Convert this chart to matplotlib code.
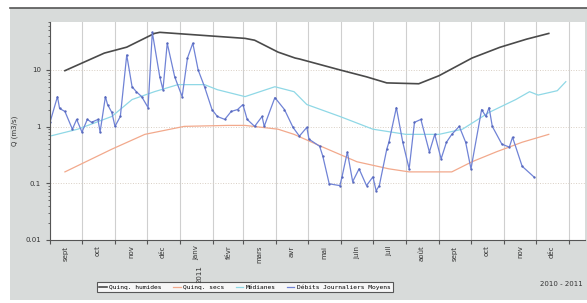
import numpy as np
import matplotlib.pyplot as plt
import matplotlib.dates as mdates
from matplotlib.patches import Rectangle
from matplotlib.lines import Line2D

# Début de la période affichée
debut = np.datetime64('2010-09-01')

# Débits journaliers moyens (jour depuis le début, m3/s)
jours_djm = [0, 7, 9, 14, 21, 25, 30, 35, 39, 45, 47, 52, 54, 58, 61, 66, 72, 77, 81, 86,
             92, 96, 103, 106, 110, 117, 124, 129, 134, 139, 145, 152, 157, 164, 170, 176,
             181, 185, 192, 199, 201, 211, 220, 228, 234, 241, 243, 253, 256, 262, 272, 274,
             279, 284, 290, 297, 303, 306, 309, 316, 318, 325, 331, 337, 342, 348, 356, 361,
             367, 372, 377, 384, 390, 395, 405, 409, 412, 415, 424, 431, 434, 443, 454]
djm = [1.19, 3.38, 2.09, 1.85, 0.90, 1.34, 0.80, 1.34, 1.19, 1.34, 0.80, 3.38, 2.45, 1.78,
       1.01, 1.51, 18.3, 5.05, 4.13, 3.38, 2.17, 46, 7.55, 4.48, 29.6, 7.55, 3.38, 16.2, 29.6,
       10, 5.05, 2.0, 1.51, 1.34, 1.85, 2.0, 2.45, 1.34, 1.01, 1.51, 1.01, 3.25, 2.0, 0.97,
       0.68, 0.97, 0.60, 0.45, 0.30, 0.098, 0.091, 0.13, 0.356, 0.107, 0.18, 0.091, 0.13,
       0.074, 0.091, 0.40, 0.53, 2.17, 0.53, 0.18, 1.19, 1.34, 0.356, 0.73, 0.27, 0.53, 0.73,
       1.01, 0.53, 0.18, 2.0, 1.51, 2.17, 1.01, 0.49, 0.435, 0.65, 0.20, 0.13]

# Quinquennale humide
jours_qh = [14, 51, 72, 98, 103, 183, 192, 214, 230, 234, 272, 297, 316, 346, 365, 396, 422, 447, 468]
qh = [9.7, 19.8, 25.2, 44, 46, 36, 33.4, 20.6, 16.2, 15.6, 10, 7.55, 5.9, 5.7, 7.9, 16.2, 25, 34.8, 44]

# Quinquennale sèche
jours_qs = [14, 58, 89, 126, 167, 183, 214, 229, 256, 288, 318, 337, 377, 396, 419, 443, 468]
qs = [0.159, 0.40, 0.73, 1.01, 1.05, 1.05, 0.90, 0.73, 0.435, 0.24, 0.18, 0.159, 0.159, 0.24, 0.36, 0.53, 0.73]

# Médianes
jours_med = [0, 26, 58, 77, 98, 120, 145, 157, 183, 211, 229, 241, 272, 303, 334, 365, 387,
             412, 437, 450, 458, 468, 476, 484]
med = [0.68, 0.90, 1.51, 3.0, 4.13, 5.5, 5.5, 4.48, 3.38, 5.05, 4.13, 2.45, 1.51, 0.90, 0.73,
       0.73, 0.90, 1.78, 3.0, 4.13, 3.6, 3.97, 4.3, 6.2]

mois = ['sept', 'oct', 'nov', 'déc', 'janv', 'févr', 'mars', 'avr', 'mai', 'juin',
        'juil', 'août', 'sept', 'oct', 'nov', 'déc']


def en_dates(jours):
    return debut + np.array(jours).astype('timedelta64[D]')


fig = plt.figure(figsize=(5.87, 3.03), dpi=100)
fig.patch.set_facecolor('white')

# panneau gris de fond
fig.add_artist(Rectangle((10 / 587, 3 / 303), 1, 292 / 303, transform=fig.transFigure,
                         facecolor='#d8dbda', edgecolor='none', zorder=0))
fig.add_artist(Line2D([10 / 587, 1], [295 / 303, 295 / 303], transform=fig.transFigure,
                      color='#555555', linewidth=1.2))

ax = fig.add_axes([50 / 587, 63 / 303, 535 / 587, 218 / 303])
ax.set_facecolor('white')

ax.plot(en_dates(jours_qh), qh, color='#4a4a4a', linewidth=1.2)
ax.plot(en_dates(jours_qs), qs, color='#f2a98c', linewidth=0.9)
ax.plot(en_dates(jours_med), med, color='#8fd8e6', linewidth=0.9)
ax.plot(en_dates(jours_djm), djm, color='#7083d6', linewidth=0.9,
        marker='.', markersize=1.4, markeredgecolor='#5566bb')

ax.set_yscale('log')
ax.set_ylim(0.01, 70)
ax.set_xlim(debut, debut + np.timedelta64(502, 'D'))

# grille verticale aux débuts de mois, étiquettes au milieu du mois
ax.xaxis.set_major_locator(mdates.MonthLocator())
ax.xaxis.set_major_formatter(plt.NullFormatter())
milieux = [debut.astype('datetime64[M]') + np.timedelta64(i, 'M') for i in range(len(mois))]
milieux = [m.astype('datetime64[D]') + np.timedelta64(15, 'D') for m in milieux]
ax.set_xticks(milieux, minor=True)
ax.set_xticklabels(mois, minor=True, rotation=90, fontsize=5, color='#333333')
ax.tick_params(axis='x', which='minor', length=0, pad=4)
ax.tick_params(axis='x', which='major', length=3, color='#555555')
ax.grid(axis='x', which='major', color='#cfcfcf', linewidth=0.8)

ax.set_yticks([0.01, 0.1, 1, 10])
ax.set_yticklabels(['0.01', '0.1', '1', '10'], fontsize=5, color='#333333')
ax.tick_params(axis='y', which='major', length=3, color='#555555')
ax.tick_params(axis='y', which='minor', length=1.5, color='#555555')
ax.grid(axis='y', which='major', color='#d9cfc4', linewidth=0.7, linestyle=':')

for s in ['top', 'right']:
    ax.spines[s].set_visible(False)
for s in ['left', 'bottom']:
    ax.spines[s].set_color('#555555')

ax.set_ylabel('Q (m3/s)', fontsize=5, color='#333333', labelpad=5)

fig.text(200 / 587, 1 - 274 / 303, '2011', rotation=90, fontsize=5, color='#333333',
         ha='center', va='center')
fig.text(561 / 587, 1 - 284 / 303, '2010 - 2011', fontsize=5, color='#333333',
         ha='center', va='center')

handles = [Line2D([], [], color='#4a4a4a', linewidth=1.2),
           Line2D([], [], color='#f2a98c', linewidth=0.9),
           Line2D([], [], color='#8fd8e6', linewidth=0.9),
           Line2D([], [], color='#7083d6', linewidth=0.9)]
noms = ['Quinq. humides', 'Quinq. secs', 'Médianes', 'Débits Journaliers Moyens']
leg = fig.legend(handles, noms, loc='center', bbox_to_anchor=(245 / 587, 1 - 287 / 303),
                 ncol=4, frameon=True, fancybox=False, handlelength=1.2,
                 handletextpad=0.4, columnspacing=1.8, borderpad=0.4,
                 prop={'family': 'DejaVu Sans Mono', 'size': 4.5})
leg.get_frame().set_edgecolor('#333333')
leg.get_frame().set_linewidth(0.8)

fig.savefig('out.png', dpi=100)
